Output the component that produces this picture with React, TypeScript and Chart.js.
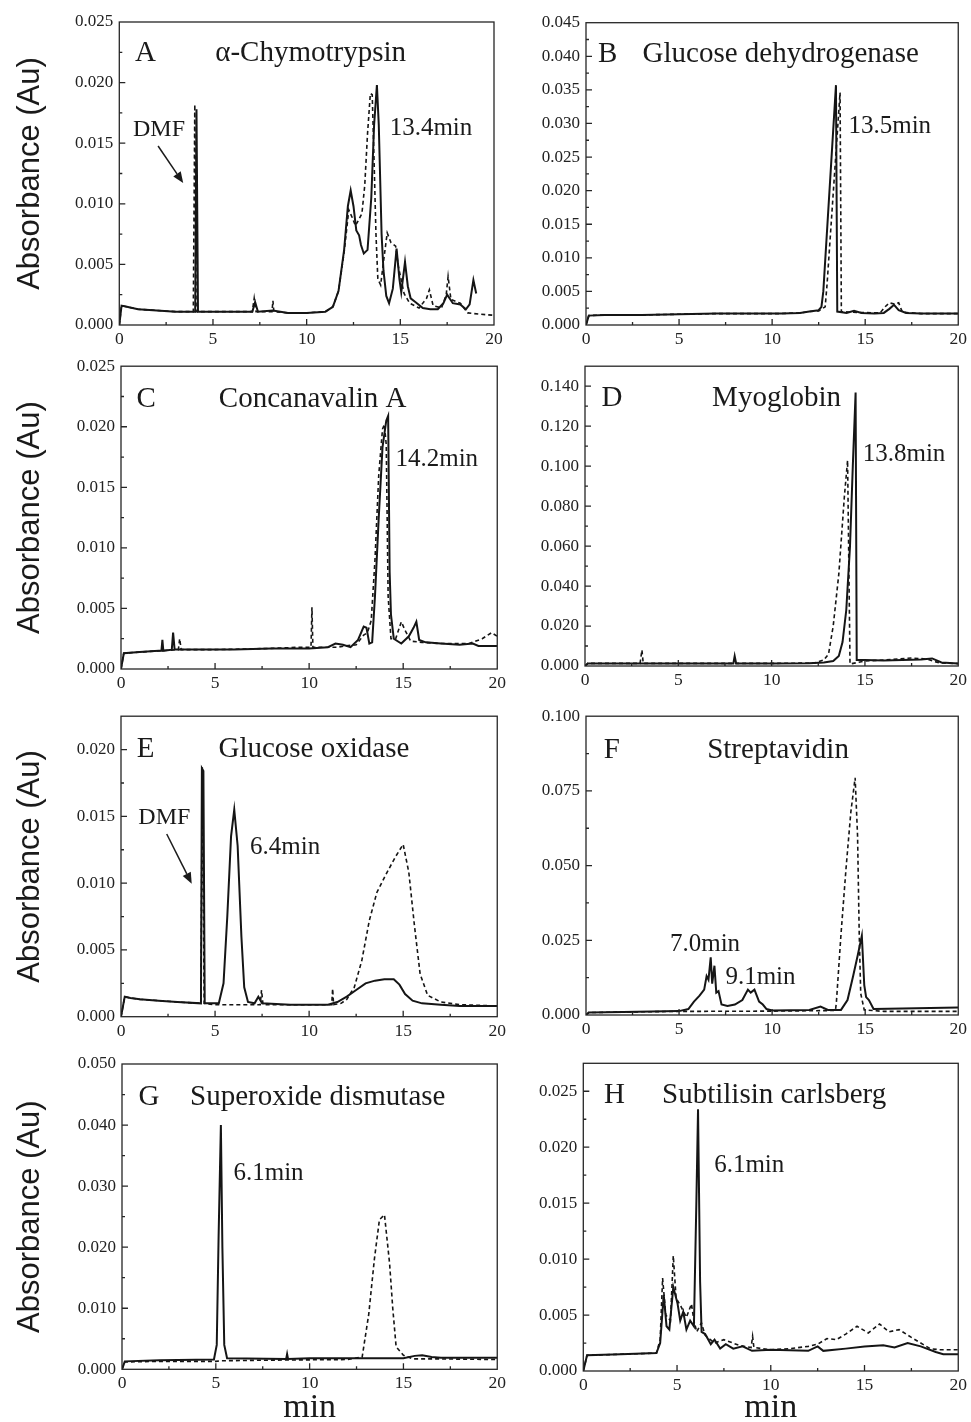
import React, { useEffect, useRef } from "react";
import { Chart, registerables } from "chart.js";

Chart.register(...registerables);

const SERIF = '"Liberation Serif", "Times New Roman", serif';
const SANS = '"Liberation Sans", Arial, sans-serif';

// ---------------- tick values ----------------
const xTicks = [0, 5, 10, 15, 20];
const yTicksA = [0, 0.005, 0.01, 0.015, 0.02, 0.025];
const yTicksB = [0, 0.005, 0.01, 0.015, 0.02, 0.025, 0.03, 0.035, 0.04, 0.045];
const yTicksC = [0, 0.005, 0.01, 0.015, 0.02, 0.025];
const yTicksD = [0, 0.02, 0.04, 0.06, 0.08, 0.1, 0.12, 0.14];
const yTicksE = [0, 0.005, 0.01, 0.015, 0.02];
const yTicksF = [0, 0.025, 0.05, 0.075, 0.1];
const yTicksG = [0, 0.01, 0.02, 0.03, 0.04, 0.05];
const yTicksH = [0, 0.005, 0.01, 0.015, 0.02, 0.025];

// ---------------- A: alpha-Chymotrypsin ----------------
const aSolidT = [0, 0.12, 0.4, 1, 2, 3, 3.9, 4.05, 4.12, 4.2, 5, 6, 7.1, 7.25, 7.4, 8.2, 9, 10, 11, 11.4, 11.7, 12, 12.2, 12.35, 12.5, 12.65, 12.8, 12.9, 13.05, 13.25, 13.45, 13.6, 13.75, 13.85, 14, 14.1, 14.25, 14.4, 14.6, 14.8, 14.95, 15.05, 15.25, 15.4, 15.55, 15.8, 16.2, 16.6, 17, 17.3, 17.5, 17.8, 18.2, 18.5, 18.7, 18.9, 19.05];
const aSolidV = [0, 0.0016, 0.0015, 0.0013, 0.0012, 0.0011, 0.0011, 0.0011, 0.0178, 0.0011, 0.0011, 0.0011, 0.0011, 0.0019, 0.0011, 0.0012, 0.001, 0.001, 0.0011, 0.0015, 0.0028, 0.0062, 0.0098, 0.0111, 0.0098, 0.0078, 0.0074, 0.0066, 0.0059, 0.0062, 0.0105, 0.0165, 0.0198, 0.0165, 0.0075, 0.0045, 0.0024, 0.0018, 0.003, 0.0063, 0.0038, 0.0027, 0.0052, 0.0032, 0.0022, 0.0019, 0.0014, 0.0013, 0.0013, 0.0018, 0.0025, 0.0018, 0.0017, 0.0013, 0.0017, 0.0037, 0.0026];
const aDashT = [0, 0.12, 0.4, 1, 2, 3, 3.95, 4.03, 4.1, 5, 7.1, 7.2, 7.3, 8.15, 8.2, 8.25, 9, 10, 11, 11.4, 11.7, 12, 12.25, 12.45, 12.6, 12.75, 12.95, 13.1, 13.25, 13.4, 13.5, 13.6, 13.7, 13.8, 13.95, 14.1, 14.3, 14.5, 14.75, 14.9, 15.2, 15.5, 16, 16.4, 16.55, 16.75, 17.2, 17.45, 17.55, 17.7, 18.2, 18.6, 19.2, 20];
const aDashV = [0, 0.0016, 0.0015, 0.0013, 0.0012, 0.0011, 0.0011, 0.0182, 0.0011, 0.0011, 0.0011, 0.0022, 0.0011, 0.0011, 0.002, 0.0011, 0.001, 0.001, 0.0011, 0.0015, 0.0028, 0.006, 0.0095, 0.0088, 0.0082, 0.0086, 0.0092, 0.0115, 0.0158, 0.0191, 0.019, 0.0135, 0.0075, 0.0038, 0.0033, 0.0052, 0.0076, 0.0068, 0.0065, 0.0048, 0.0026, 0.0018, 0.0014, 0.0022, 0.0029, 0.0016, 0.0014, 0.0025, 0.004, 0.0021, 0.0018, 0.001, 0.0009, 0.0008];

// ---------------- B: Glucose dehydrogenase ----------------
const bSolidT = [0, 0.15, 1, 3, 5, 7, 9, 10.5, 11.5, 12, 12.5, 12.65, 12.75, 13.43, 13.5, 14, 14.4, 14.8, 15.5, 16, 16.3, 16.55, 16.8, 17.2, 18, 20];
const bSolidV = [0, 0.0014, 0.0015, 0.0015, 0.0016, 0.0017, 0.0017, 0.0017, 0.0018, 0.002, 0.0022, 0.0027, 0.005, 0.0357, 0.002, 0.0018, 0.0021, 0.0018, 0.0017, 0.0018, 0.0024, 0.003, 0.0022, 0.0018, 0.0017, 0.0017];
const bDashT = [0, 0.15, 1, 3, 5, 7, 9, 10.5, 11.5, 12, 12.5, 12.85, 12.95, 13.65, 13.72, 14.2, 15.8, 16.1, 16.3, 16.6, 16.8, 17, 18, 20];
const bDashV = [0, 0.0014, 0.0015, 0.0015, 0.0016, 0.0017, 0.0017, 0.0017, 0.0018, 0.002, 0.0021, 0.0027, 0.006, 0.0346, 0.002, 0.0019, 0.0018, 0.0028, 0.0033, 0.0031, 0.0033, 0.0019, 0.0017, 0.0017];

// ---------------- C: Concanavalin A ----------------
const cSolidT = [0, 0.15, 1, 2, 2.15, 2.2, 2.25, 2.7, 2.77, 2.85, 4, 6, 8, 10, 11, 11.4, 11.8, 12.2, 12.6, 12.9, 13.05, 13.2, 13.35, 13.5, 13.7, 13.9, 14.1, 14.2, 14.28, 14.35, 14.5, 14.9, 15.3, 15.55, 15.7, 15.85, 16.2, 17, 18, 18.7, 19, 20];
const cSolidV = [0, 0.0013, 0.0014, 0.0015, 0.0015, 0.0024, 0.0015, 0.0016, 0.003, 0.0016, 0.0016, 0.0016, 0.0017, 0.0017, 0.0018, 0.0021, 0.002, 0.0018, 0.0024, 0.0035, 0.0034, 0.0021, 0.0022, 0.006, 0.0125, 0.0183, 0.0205, 0.0209, 0.008, 0.0045, 0.0025, 0.0021, 0.0027, 0.0034, 0.0039, 0.0024, 0.0022, 0.0021, 0.002, 0.0021, 0.0019, 0.0019];
const cDashT = [0, 0.15, 1, 2, 3.05, 3.12, 3.2, 5, 8, 9.5, 10.1, 10.15, 10.2, 11, 11.5, 11.9, 12.5, 12.9, 13.1, 13.3, 13.5, 13.7, 13.9, 14, 14.1, 14.2, 14.35, 14.6, 14.9, 15.1, 15.4, 16, 17, 18.5, 19.2, 19.7, 20];
const cDashV = [0, 0.0013, 0.0014, 0.0015, 0.0016, 0.0025, 0.0016, 0.0016, 0.0017, 0.0018, 0.0018, 0.0051, 0.0018, 0.0018, 0.0018, 0.0019, 0.002, 0.0028, 0.003, 0.004, 0.009, 0.016, 0.0198, 0.0202, 0.0185, 0.006, 0.0025, 0.0025, 0.0039, 0.0032, 0.0023, 0.0022, 0.0021, 0.0021, 0.0025, 0.003, 0.0027];

// ---------------- D: Myoglobin ----------------
const dSolidT = [0, 0.15, 2, 5, 7.95, 8.02, 8.1, 10, 12, 12.8, 13.3, 13.6, 13.8, 14, 14.2, 14.35, 14.5, 14.56, 15, 16, 17, 18, 18.6, 19.1, 20];
const dSolidV = [0, 0.0013, 0.0013, 0.0013, 0.0013, 0.005, 0.0013, 0.0013, 0.0014, 0.0018, 0.0025, 0.005, 0.012, 0.028, 0.06, 0.1, 0.1368, 0.003, 0.003, 0.0028, 0.003, 0.0033, 0.0038, 0.0018, 0.0012];
const dDashT = [0, 0.15, 2.95, 3.05, 3.12, 6, 10, 12.3, 12.8, 13.05, 13.3, 13.6, 13.9, 14.07, 14.2, 15, 16, 17.5, 18.3, 19, 20];
const dDashV = [0, 0.0013, 0.0013, 0.008, 0.0013, 0.0013, 0.0013, 0.0015, 0.003, 0.006, 0.02, 0.046, 0.085, 0.1029, 0.001, 0.0025, 0.003, 0.004, 0.0035, 0.0015, 0.0012];

// ---------------- E: Glucose oxidase ----------------
const eSolidT = [0, 0.2, 0.5, 1, 2, 3, 4.25, 4.3, 4.38, 4.45, 5.2, 5.45, 5.65, 5.85, 6.02, 6.2, 6.4, 6.55, 6.75, 7.1, 7.3, 7.5, 9, 11, 11.5, 12, 12.5, 13, 13.5, 14, 14.5, 14.8, 15.1, 15.5, 16, 17, 18, 20];
const eSolidV = [0, 0.0015, 0.0014, 0.0013, 0.0012, 0.0011, 0.001, 0.0186, 0.0184, 0.001, 0.001, 0.0025, 0.0075, 0.0135, 0.0155, 0.0128, 0.006, 0.0022, 0.0011, 0.001, 0.0015, 0.001, 0.0009, 0.0009, 0.0011, 0.0015, 0.002, 0.0025, 0.0027, 0.0028, 0.0028, 0.0024, 0.0017, 0.0012, 0.001, 0.0009, 0.0008, 0.0008];
const eDashT = [0, 0.2, 0.5, 1, 2, 3, 4.25, 4.32, 4.42, 5, 7.4, 7.47, 7.55, 9, 11.2, 11.25, 11.3, 11.7, 12, 12.4, 12.8, 13.2, 13.6, 14.1, 14.6, 15, 15.3, 15.6, 15.9, 16.3, 17, 18, 20];
const eDashV = [0, 0.0015, 0.0014, 0.0013, 0.0012, 0.0011, 0.001, 0.0187, 0.001, 0.0009, 0.0009, 0.002, 0.0009, 0.0009, 0.0009, 0.0021, 0.0009, 0.001, 0.0013, 0.0022, 0.0042, 0.0072, 0.0093, 0.0107, 0.012, 0.0129, 0.0108, 0.0068, 0.0032, 0.0016, 0.0011, 0.0009, 0.0008];

// ---------------- F: Streptavidin ----------------
const fSolidT = [0, 0.15, 2, 5, 5.5, 5.8, 6.1, 6.35, 6.48, 6.58, 6.7, 6.78, 6.9, 7, 7.12, 7.28, 7.6, 8, 8.4, 8.7, 8.85, 9.05, 9.3, 9.5, 9.7, 10, 12, 12.6, 13, 13.7, 14.05, 14.35, 14.6, 14.82, 14.95, 15.05, 15.2, 15.45, 17, 20];
const fSolidV = [0, 0.0008, 0.001, 0.0013, 0.002, 0.0045, 0.0065, 0.0085, 0.013, 0.0118, 0.0193, 0.0105, 0.0165, 0.0075, 0.008, 0.0035, 0.003, 0.0035, 0.005, 0.0085, 0.0075, 0.0085, 0.0045, 0.0035, 0.002, 0.0015, 0.0017, 0.0028, 0.0017, 0.0017, 0.005, 0.013, 0.02, 0.0265, 0.01, 0.006, 0.005, 0.002, 0.0022, 0.0025];
const fDashT = [0, 0.15, 2, 5, 10, 13.4, 13.45, 13.7, 13.97, 14.23, 14.46, 14.59, 14.68, 14.76, 14.95, 16, 20];
const fDashV = [0, 0.0008, 0.001, 0.0012, 0.0013, 0.0015, 0.004, 0.027, 0.049, 0.068, 0.0794, 0.06, 0.027, 0.0072, 0.0017, 0.0012, 0.0012];

// ---------------- G: Superoxide dismutase ----------------
const gSolidT = [0, 0.15, 2, 4.9, 5.05, 5.15, 5.27, 5.35, 5.45, 5.6, 8.75, 8.8, 8.85, 10, 15, 15.6, 16, 16.5, 17, 20];
const gSolidV = [0, 0.0013, 0.0015, 0.0016, 0.004, 0.022, 0.04, 0.02, 0.004, 0.0018, 0.0017, 0.0025, 0.0017, 0.0018, 0.0018, 0.0022, 0.0023, 0.002, 0.0019, 0.0019];
const gDashT = [0, 0.15, 2, 5, 5.3, 8, 12, 12.8, 13.15, 13.45, 13.72, 13.99, 14.26, 14.43, 14.61, 15, 15.5, 17, 20];
const gDashV = [0, 0.0012, 0.0013, 0.0013, 0.0014, 0.0015, 0.0016, 0.002, 0.009, 0.018, 0.0245, 0.0253, 0.0174, 0.01, 0.0037, 0.0023, 0.0017, 0.0017, 0.0016];

// ---------------- H: Subtilisin carlsberg ----------------
const hSolidT = [0, 0.2, 2, 3.9, 4.1, 4.29, 4.44, 4.59, 4.8, 5.03, 5.17, 5.33, 5.5, 5.7, 5.9, 6.03, 6.12, 6.23, 6.31, 6.5, 6.8, 7, 7.3, 7.6, 8, 8.5, 9, 10, 12, 12.5, 12.8, 14, 15, 16, 16.6, 17.3, 18, 18.8, 19.2, 20];
const hSolidV = [0, 0.0014, 0.0015, 0.0016, 0.0025, 0.0068, 0.004, 0.0037, 0.0075, 0.006, 0.0045, 0.0053, 0.0037, 0.0045, 0.004, 0.015, 0.0234, 0.008, 0.0035, 0.0033, 0.0024, 0.0028, 0.002, 0.0024, 0.002, 0.0022, 0.0018, 0.0019, 0.0018, 0.0022, 0.0018, 0.002, 0.0022, 0.0023, 0.0021, 0.0025, 0.0022, 0.0017, 0.0015, 0.0015];
const hDashT = [0, 0.2, 2, 3.9, 4.1, 4.23, 4.4, 4.65, 4.8, 4.95, 5.2, 5.5, 5.77, 5.9, 6.05, 6.3, 6.5, 7, 7.5, 8.3, 8.95, 9.03, 9.1, 10, 11, 12, 12.5, 13, 13.5, 14, 14.6, 15.2, 15.8, 16.3, 16.84, 17.5, 18, 18.5, 19, 20];
const hDashV = [0, 0.0014, 0.0015, 0.0016, 0.0028, 0.0083, 0.005, 0.0045, 0.0103, 0.0065, 0.0058, 0.0048, 0.006, 0.0045, 0.0035, 0.0043, 0.0032, 0.0025, 0.0028, 0.0023, 0.0021, 0.0031, 0.0021, 0.0019, 0.002, 0.0022, 0.0024, 0.0029, 0.0028, 0.0033, 0.004, 0.0034, 0.0042, 0.0035, 0.0037, 0.003, 0.0025, 0.002, 0.0019, 0.0019];

// ---------------- panel setup ----------------
type Note = { text: string; t: number; v: number; size: number };
type Arrow = { t0: number; v0: number; t1: number; v1: number };
type Panel = {
  key: string;
  cx: number; cy: number; cw: number; ch: number;
  l: number; t: number; r: number; b: number;
  yMax: number; yTicks: number[]; yMinor: number;
  solidT: number[]; solidV: number[]; dashT: number[]; dashV: number[];
  notes: Note[]; arrow?: Arrow;
  yTitle: boolean; xTitle: boolean;
};

const panels: Panel[] = [
  {
    key: "A", cx: 0, cy: 0, cw: 510, ch: 350, l: 119.3, t: 22, r: 494, b: 325,
    yMax: 0.025, yTicks: yTicksA, yMinor: 0.0025,
    solidT: aSolidT, solidV: aSolidV, dashT: aDashT, dashV: aDashV,
    notes: [
      { text: "A", t: 0.84, v: 0.02178, size: 29 },
      { text: "α-Chymotrypsin", t: 5.12, v: 0.02178, size: 29 },
      { text: "DMF", t: 0.73, v: 0.0156, size: 24 },
      { text: "13.4min", t: 14.43, v: 0.01568, size: 25 },
    ],
    arrow: { t0: 2.07, v0: 0.01477, t1: 3.41, v1: 0.01172 },
    yTitle: true, xTitle: false,
  },
  {
    key: "B", cx: 510, cy: 0, cw: 461, ch: 350, l: 586, t: 22.7, r: 961, b: 325,
    yMax: 0.045, yTicks: yTicksB, yMinor: 0.0025,
    solidT: bSolidT, solidV: bSolidV, dashT: bDashT, dashV: bDashV,
    notes: [
      { text: "B", t: 0.64, v: 0.0392, size: 29 },
      { text: "Glucose dehydrogenase", t: 3.04, v: 0.0392, size: 29 },
      { text: "13.5min", t: 14.1, v: 0.02853, size: 25 },
    ],
    yTitle: false, xTitle: false,
  },
  {
    key: "C", cx: 0, cy: 350, cw: 510, ch: 350, l: 121, t: 365, r: 497.5, b: 669,
    yMax: 0.025, yTicks: yTicksC, yMinor: 0.0025,
    solidT: cSolidT, solidV: cSolidV, dashT: cDashT, dashV: cDashV,
    notes: [
      { text: "C", t: 0.83, v: 0.02165, size: 29 },
      { text: "Concanavalin A", t: 5.2, v: 0.02165, size: 29 },
      { text: "14.2min", t: 14.59, v: 0.01678, size: 25 },
    ],
    yTitle: true, xTitle: false,
  },
  {
    key: "D", cx: 510, cy: 350, cw: 461, ch: 350, l: 585, t: 363, r: 959, b: 666,
    yMax: 0.15, yTicks: yTicksD, yMinor: 0.01,
    solidT: dSolidT, solidV: dSolidV, dashT: dDashT, dashV: dDashV,
    notes: [
      { text: "D", t: 0.89, v: 0.13, size: 29 },
      { text: "Myoglobin", t: 6.81, v: 0.13, size: 29 },
      { text: "13.8min", t: 14.88, v: 0.1028, size: 25 },
    ],
    yTitle: false, xTitle: false,
  },
  {
    key: "E", cx: 0, cy: 700, cw: 510, ch: 340, l: 121, t: 714, r: 497.5, b: 1016.7,
    yMax: 0.0225, yTicks: yTicksE, yMinor: 0.0025,
    solidT: eSolidT, solidV: eSolidV, dashT: eDashT, dashV: eDashV,
    notes: [
      { text: "E", t: 0.84, v: 0.01945, size: 29 },
      { text: "Glucose oxidase", t: 5.18, v: 0.01945, size: 29 },
      { text: "DMF", t: 0.92, v: 0.01442, size: 24 },
      { text: "6.4min", t: 6.86, v: 0.01215, size: 25 },
    ],
    arrow: { t0: 2.43, v0: 0.01368, t1: 3.76, v1: 0.00996 },
    yTitle: true, xTitle: false,
  },
  {
    key: "F", cx: 510, cy: 700, cw: 461, ch: 340, l: 586, t: 712.7, r: 961.7, b: 1015,
    yMax: 0.1, yTicks: yTicksF, yMinor: 0.0125,
    solidT: fSolidT, solidV: fSolidV, dashT: fDashT, dashV: fDashV,
    notes: [
      { text: "F", t: 0.96, v: 0.086, size: 29 },
      { text: "Streptavidin", t: 6.51, v: 0.086, size: 29 },
      { text: "7.0min", t: 4.51, v: 0.02127, size: 25 },
      { text: "9.1min", t: 7.49, v: 0.01025, size: 25 },
    ],
    yTitle: false, xTitle: false,
  },
  {
    key: "G", cx: 0, cy: 1040, cw: 510, ch: 382, l: 122, t: 1064, r: 497.5, b: 1369.3,
    yMax: 0.05, yTicks: yTicksG, yMinor: 0.005,
    solidT: gSolidT, solidV: gSolidV, dashT: gDashT, dashV: gDashV,
    notes: [
      { text: "G", t: 0.88, v: 0.0433, size: 29 },
      { text: "Superoxide dismutase", t: 3.63, v: 0.0433, size: 29 },
      { text: "6.1min", t: 5.94, v: 0.031, size: 25 },
    ],
    yTitle: true, xTitle: true,
  },
  {
    key: "H", cx: 510, cy: 1040, cw: 461, ch: 382, l: 583.3, t: 1063.3, r: 961.3, b: 1371,
    yMax: 0.0275, yTicks: yTicksH, yMinor: 0.0025,
    solidT: hSolidT, solidV: hSolidV, dashT: hDashT, dashV: hDashV,
    notes: [
      { text: "H", t: 1.1, v: 0.02398, size: 29 },
      { text: "Subtilisin carlsberg", t: 4.2, v: 0.02398, size: 29 },
      { text: "6.1min", t: 6.98, v: 0.01781, size: 25 },
    ],
    yTitle: false, xTitle: true,
  },
];

function zip(t: number[], v: number[]) {
  return t.map((x, i) => ({ x, y: v[i] }));
}

const decorPlugin = {
  id: "decor",
  afterDraw(chart: any, _args: any, opts: any) {
    const { ctx, chartArea, scales } = chart;
    const xs = scales.x;
    const ys = scales.y;
    const { left, top, right, bottom } = chartArea;
    ctx.save();
    // frame
    ctx.strokeStyle = "#262626";
    ctx.lineWidth = 1.3;
    ctx.strokeRect(left, top, right - left, bottom - top);
    // inward ticks
    ctx.beginPath();
    const nx = Math.round((xs.max - xs.min) / opts.xMinor);
    for (let i = 1; i < nx; i++) {
      const v = xs.min + i * opts.xMinor;
      const px = xs.getPixelForValue(v);
      const len = i % 2 === 0 ? 6 : 3;
      ctx.moveTo(px, bottom);
      ctx.lineTo(px, bottom - len);
    }
    const ny = Math.floor((ys.max - ys.min) / opts.yMinor + 1e-6);
    for (let i = 1; i <= ny; i++) {
      const v = ys.min + i * opts.yMinor;
      const py = ys.getPixelForValue(v);
      if (Math.abs(py - top) < 1) continue;
      const len = i % 2 === 0 ? 6 : 3;
      ctx.moveTo(left, py);
      ctx.lineTo(left + len, py);
    }
    ctx.stroke();
    // annotations
    ctx.fillStyle = "#1a1a1a";
    ctx.textAlign = "left";
    ctx.textBaseline = "alphabetic";
    for (const n of opts.notes as Note[]) {
      ctx.font = `${n.size}px ${SERIF}`;
      ctx.fillText(n.text, xs.getPixelForValue(n.t), ys.getPixelForValue(n.v));
    }
    const a: Arrow | undefined = opts.arrow;
    if (a) {
      const x0 = xs.getPixelForValue(a.t0);
      const y0 = ys.getPixelForValue(a.v0);
      const x1 = xs.getPixelForValue(a.t1);
      const y1 = ys.getPixelForValue(a.v1);
      const ang = Math.atan2(y1 - y0, x1 - x0);
      const hl = 11;
      const hw = 4.5;
      const bx = x1 - hl * Math.cos(ang);
      const by = y1 - hl * Math.sin(ang);
      ctx.strokeStyle = "#1a1a1a";
      ctx.lineWidth = 1.5;
      ctx.beginPath();
      ctx.moveTo(x0, y0);
      ctx.lineTo(bx, by);
      ctx.stroke();
      ctx.beginPath();
      ctx.moveTo(x1, y1);
      ctx.lineTo(bx + hw * Math.sin(ang), by - hw * Math.cos(ang));
      ctx.lineTo(bx - hw * Math.sin(ang), by + hw * Math.cos(ang));
      ctx.closePath();
      ctx.fill();
    }
    ctx.restore();
  },
};

function PanelChart({ p }: { p: Panel }) {
  const ref = useRef<HTMLCanvasElement | null>(null);
  useEffect(() => {
    if (!ref.current) return;
    const chart = new Chart(ref.current, {
      type: "line",
      data: {
        datasets: [
          {
            data: zip(p.solidT, p.solidV),
            borderColor: "#151515",
            borderWidth: 2,
            pointRadius: 0,
            tension: 0,
            fill: false,
          },
          {
            data: zip(p.dashT, p.dashV),
            borderColor: "#151515",
            borderWidth: 1.6,
            borderDash: [4, 3],
            pointRadius: 0,
            tension: 0,
            fill: false,
          },
        ],
      },
      options: {
        responsive: false,
        maintainAspectRatio: false,
        animation: false,
        events: [],
        layout: {
          padding: { top: p.t - p.cy, right: p.cx + p.cw - p.r, left: 0, bottom: 0 },
        },
        plugins: {
          legend: { display: false },
          tooltip: { enabled: false },
          decor: { xMinor: 2.5, yMinor: p.yMinor, notes: p.notes, arrow: p.arrow },
        } as any,
        scales: {
          x: {
            type: "linear",
            min: 0,
            max: 20,
            grid: { display: false, drawTicks: false },
            border: { display: false },
            afterBuildTicks: (s: any) => {
              s.ticks = xTicks.map((v) => ({ value: v }));
            },
            afterFit: (s: any) => {
              s.height = p.cy + p.ch - p.b;
            },
            ticks: {
              padding: 4,
              color: "#222",
              font: { family: SERIF, size: 17.5 },
              callback: (v: any) => String(v),
            },
            title: {
              display: p.xTitle,
              text: "min",
              color: "#1a1a1a",
              font: { family: SERIF, size: 34, lineHeight: 0.8 },
              padding: { top: 0, bottom: 0.6 },
            },
          },
          y: {
            type: "linear",
            min: 0,
            max: p.yMax,
            grid: { display: false, drawTicks: false },
            border: { display: false },
            afterBuildTicks: (s: any) => {
              s.ticks = p.yTicks.map((v) => ({ value: v }));
            },
            afterFit: (s: any) => {
              s.width = p.l - p.cx;
            },
            ticks: {
              padding: 6,
              color: "#222",
              font: { family: SERIF, size: 17 },
              callback: (v: any) => Number(v).toFixed(3),
            },
            title: {
              display: p.yTitle,
              text: "Absorbance (Au)",
              color: "#1a1a1a",
              font: { family: SANS, size: 31 },
              padding: { top: 11.4, bottom: 0 },
            },
          },
        } as any,
      },
      plugins: [decorPlugin],
    } as any);
    return () => chart.destroy();
  }, [p]);
  return (
    <canvas
      ref={ref}
      width={p.cw}
      height={p.ch}
      style={{ position: "absolute", left: p.cx, top: p.cy, width: p.cw, height: p.ch }}
    />
  );
}

export default function App() {
  return (
    <div
      style={{
        position: "absolute",
        left: 0,
        top: 0,
        width: 971,
        height: 1422,
        background: "#ffffff",
        overflow: "hidden",
      }}
    >
      {panels.map((p) => (
        <PanelChart key={p.key} p={p} />
      ))}
    </div>
  );
}
